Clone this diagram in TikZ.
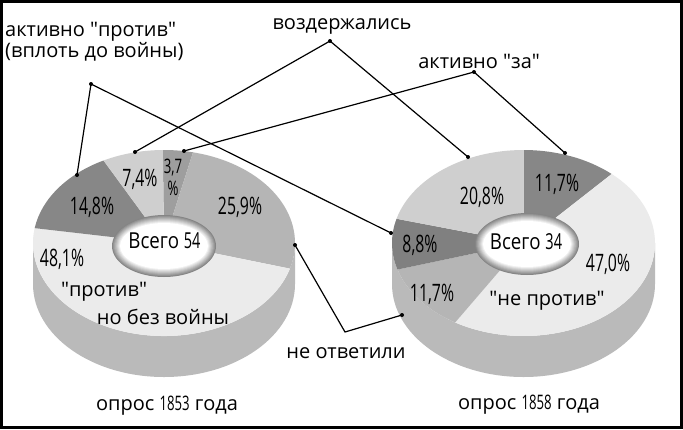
\documentclass[tikz,border=0pt]{standalone}
\usepackage{fontspec}
\setmainfont{Open Sans}[Ligatures=TeXOff]
\newfontfamily\numfont[FakeStretch=0.66,Ligatures=TeXOff]{Open Sans}
\newfontfamily\hubfont[FakeStretch=0.85,Ligatures=TeXOff]{Open Sans}
\usetikzlibrary{calc}
\definecolor{cDark}{gray}{0.53}
\definecolor{cDarker}{gray}{0.50}
\definecolor{cThree}{gray}{0.62}
\definecolor{cMid}{gray}{0.71}
\definecolor{cLight}{gray}{0.81}
\definecolor{cPale}{gray}{0.92}
\definecolor{cSide}{gray}{0.73}
\begin{document}
\begin{tikzpicture}[x=1pt,y=-1pt,
  lbl/.style={font=\fontsize{20}{21}\selectfont, inner sep=0pt},
  num/.style={font=\numfont\fontsize{24}{24}\selectfont, inner sep=0pt, anchor=base},
  smallnum/.style={font=\numfont\fontsize{20}{20}\selectfont, inner sep=0pt, anchor=base},
  hub/.style={font=\hubfont\fontsize{22}{22}\selectfont, inner sep=0pt},
  dotc/.style={circle, fill=black, inner sep=0pt, minimum size=4pt},
  conn/.style={line width=1.2pt, black}]
\useasboundingbox (0,0) rectangle (683,429);
\fill[white] (0,0) rectangle (683,429);

% ---------- left pie (1853) ----------
\fill[cSide] (33,243) arc[start angle=180,end angle=0,x radius=131,y radius=93]
  -- (295,284) arc[start angle=0,end angle=180,x radius=131,y radius=93] -- cycle;
\fill[cThree] (164,243) -- ++({131*cos(-90.5)},{93*sin(-90.5)})
  arc[start angle=-90.5,end angle=-77.2,x radius=131,y radius=93] -- cycle;
\fill[cMid] (164,243) -- ++({131*cos(-77.2)},{93*sin(-77.2)})
  arc[start angle=-77.2,end angle=16,x radius=131,y radius=93] -- cycle;
\fill[cPale] (164,243) -- ++({131*cos(16)},{93*sin(16)})
  arc[start angle=16,end angle=189.2,x radius=131,y radius=93] -- cycle;
\fill[cDark] (164,243) -- ++({131*cos(189.2)},{93*sin(189.2)})
  arc[start angle=189.2,end angle=242.5,x radius=131,y radius=93] -- cycle;
\fill[cLight] (164,243) -- ++({131*cos(242.5)},{93*sin(242.5)})
  arc[start angle=242.5,end angle=269.5,x radius=131,y radius=93] -- cycle;
\foreach \k in {0,...,8}{
  \pgfmathsetmacro{\g}{max(0,48-6*\k)}
  \fill[black!\g] (164,246) ellipse[x radius={52-\k}, y radius={31-\k}];
}
\node[hub] (hubL) at (164.5,241) {Всего {\numfont 54}};

% ---------- right pie (1858) ----------
\fill[cSide] (392,243) arc[start angle=180,end angle=0,x radius=131.5,y radius=93]
  -- (655,284) arc[start angle=0,end angle=180,x radius=131.5,y radius=93] -- cycle;
\fill[cDark] (523.5,243) -- ++({131.5*cos(-90)},{93*sin(-90)})
  arc[start angle=-90,end angle=-47.9,x radius=131.5,y radius=93] -- cycle;
\fill[cPale] (523.5,243) -- ++({131.5*cos(-47.9)},{93*sin(-47.9)})
  arc[start angle=-47.9,end angle=121.3,x radius=131.5,y radius=93] -- cycle;
\fill[cMid] (523.5,243) -- ++({131.5*cos(121.3)},{93*sin(121.3)})
  arc[start angle=121.3,end angle=163.4,x radius=131.5,y radius=93] -- cycle;
\fill[cDarker] (523.5,243) -- ++({131.5*cos(163.4)},{93*sin(163.4)})
  arc[start angle=163.4,end angle=195.1,x radius=131.5,y radius=93] -- cycle;
\fill[cLight] (523.5,243) -- ++({131.5*cos(195.1)},{93*sin(195.1)})
  arc[start angle=195.1,end angle=270,x radius=131.5,y radius=93] -- cycle;
\foreach \k in {0,...,8}{
  \pgfmathsetmacro{\g}{max(0,48-6*\k)}
  \fill[black!\g] (527,244) ellipse[x radius={52-\k}, y radius={31-\k}];
}
\node[hub] (hubR) at (526,242) {Всего {\numfont 34}};

% ---------- numbers ----------
\node[num] (n148) at (92,214) {14,8\%};
\node[num] (n74)  at (140,186) {7,4\%};
\node[smallnum] (n37a) at (173,173) {3,7};
\node[smallnum] (n37b) at (173,195) {\%};
\node[num] (n259) at (240,214) {25,9\%};
\node[num] (n481) at (62,266) {48,1\%};
\node[num] (r117a) at (557,191) {11,7\%};
\node[num] (r208) at (482,204) {20,8\%};
\node[num] (r88)  at (420,252) {8,8\%};
\node[num] (r470) at (608,271) {47,0\%};
\node[num] (r117b) at (432,301) {11,7\%};

% ---------- texts ----------
\node[lbl, anchor=base] (tprot) at (104,296) {"против"};
\node[lbl, anchor=base] (tnobez) at (163,324) {но без войны};
\node[lbl, anchor=base] (tnepr) at (547,305) {"не против"};
\node[lbl, anchor=base] (t1853) at (167,410) {опрос {\numfont 1853} года};
\node[lbl, anchor=base] (t1858) at (529,409) {опрос {\numfont 1858} года};
\node[lbl, anchor=base] (tvoz) at (342,29) {воздержались};
\node[lbl, anchor=base west, align=left] (tact) at (5,57) {активно "против"\\(вплоть до войны)};
\node[lbl, anchor=base] (taz) at (479,68) {активно "за"};
\node[lbl, anchor=base] (tneotv) at (346,358) {не ответили};

% ---------- connector points ----------
\coordinate (pvz) at (330,41);
\coordinate (pap) at (91,84);
\coordinate (paz) at (474,72);
\coordinate (pL148) at (77,175);
\coordinate (pL74) at (135,152);
\coordinate (pL37) at (184,151);
\coordinate (pL259) at (295,245);
\coordinate (pR208) at (468,157);
\coordinate (pR117) at (565,153);
\coordinate (pR88) at (391,233);
\coordinate (pR117b) at (402,315);
\coordinate (pnv) at (345,332);

\draw[conn] (pap) -- (pL148);
\draw[conn] (pap) -- (pR88);
\draw[conn] (pvz) -- (pL74);
\draw[conn] (pvz) -- (pR208);
\draw[conn] (paz) -- (pL37);
\draw[conn] (paz) -- (pR117);
\draw[conn] (pL259) -- (pnv) -- (pR117b);
\foreach \p in {pvz,pap,paz,pL148,pL74,pL37,pL259,pR208,pR117,pR88,pR117b}
  \node[dotc] at (\p) {};

% frame
\draw[line width=2.5pt] (1.5,1.5) rectangle (681.5,427.5);
\end{tikzpicture}
\end{document}
